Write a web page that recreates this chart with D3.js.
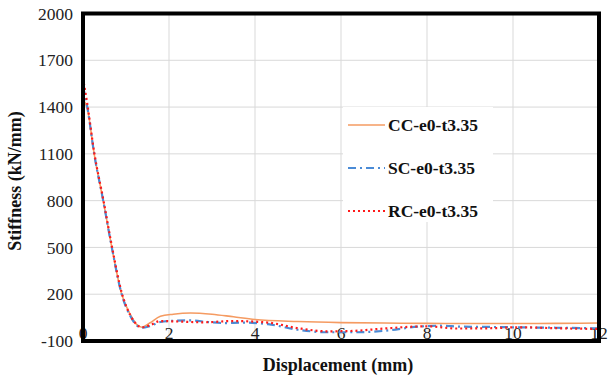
<!DOCTYPE html>
<html>
<head>
<meta charset="utf-8">
<script src="https://cdn.jsdelivr.net/npm/d3@7"></script>
<style>
  body { margin: 0; background: #fff; }
  svg { display: block; }
</style>
</head>
<body>
<div id="chart"></div>
<script>
// displacement (mm) sample points, one array per series
const ccX = [0, 0.1, 0.26, 0.47, 0.67, 0.9, 1.1, 1.25, 1.37, 1.55, 1.8, 2.1, 2.5, 3.0, 3.5, 4.0, 5.0, 6.0, 7, 8, 9, 10, 11, 12];
const ccY = [1450, 1390, 1100, 800, 500, 200, 70, 5, -12, 15, 58, 72, 80, 72, 55, 38, 25, 18, 15, 13, 12, 12, 13, 15];

const scX = [0, 0.1, 0.26, 0.47, 0.67, 0.9, 1.1, 1.25, 1.37, 1.55, 1.8, 2.1, 2.5, 2.9, 3.3, 3.7, 4.3, 5.0, 5.7, 6.3, 7.0, 7.8, 8.3, 8.8, 9.5, 10, 11, 12];
const scY = [1530, 1400, 1100, 800, 500, 200, 60, 0, -15, -5, 22, 30, 32, 22, 15, 18, 8, -28, -44, -44, -35, -8, -2, -8, -10, -12, -15, -19];

const rcX = [0, 0.1, 0.26, 0.47, 0.67, 0.9, 1.1, 1.25, 1.37, 1.55, 1.8, 2.2, 2.8, 3.5, 4.3, 5.0, 5.7, 6.3, 7.0, 8.0, 8.7, 9.5, 10.1, 11, 12];
const rcY = [1585, 1420, 1110, 810, 510, 210, 65, 5, -12, 0, 28, 25, 20, 28, 18, -18, -38, -35, -20, -6, -20, -18, -12, -18, -23];

const seriesNames = ['CC-e0-t3.35', 'SC-e0-t3.35', 'RC-e0-t3.35'];
const xTicks = [0, 2, 4, 6, 8, 10, 12];
const yTicks = [-100, 200, 500, 800, 1100, 1400, 1700, 2000];

const width = 609;
const height = 379;
const margin = { top: 13.5, right: 10, bottom: 38, left: 83 };
const plotW = width - margin.left - margin.right;
const plotH = height - margin.top - margin.bottom;

const svg = d3.select('#chart')
  .append('svg')
  .attr('width', width)
  .attr('height', height);

const x = d3.scaleLinear().domain([0, 12]).range([0, plotW]);
const y = d3.scaleLinear().domain([-100, 2000]).range([plotH, 0]);

const g = svg.append('g')
  .attr('transform', `translate(${margin.left},${margin.top})`);

// grid
g.append('g')
  .selectAll('line')
  .data(yTicks)
  .enter().append('line')
  .attr('x1', 0).attr('x2', plotW)
  .attr('y1', d => y(d)).attr('y2', d => y(d))
  .attr('stroke', '#d9d9d9').attr('stroke-width', 1);

g.append('g')
  .selectAll('line')
  .data(xTicks.slice(1))
  .enter().append('line')
  .attr('y1', 0).attr('y2', plotH)
  .attr('x1', d => x(d)).attr('x2', d => x(d))
  .attr('stroke', '#d9d9d9').attr('stroke-width', 1);

// y tick labels
g.append('g')
  .selectAll('text')
  .data(yTicks)
  .enter().append('text')
  .attr('x', -10)
  .attr('y', d => y(d))
  .attr('dy', '0.35em')
  .attr('text-anchor', 'end')
  .style('font-family', '"Liberation Serif", "Times New Roman", serif')
  .style('font-size', '17.5px')
  .style('fill', '#222')
  .text(d => d);

// x tick labels sit just under the zero line
g.append('g')
  .selectAll('text')
  .data(xTicks)
  .enter().append('text')
  .attr('x', d => x(d))
  .attr('y', y(0) + 13.5)
  .attr('text-anchor', 'middle')
  .style('font-family', '"Liberation Serif", "Times New Roman", serif')
  .style('font-size', '17.5px')
  .style('fill', '#222')
  .text(d => d);

// series
const line = d3.line()
  .x(d => x(d[0]))
  .y(d => y(d[1]))
  .curve(d3.curveMonotoneX);

const series = [
  { pts: d3.zip(ccX, ccY), color: '#f59b62', dash: null, w: 1.6 },
  { pts: d3.zip(scX, scY), color: '#4a8bd6', dash: '8,4,2,4', w: 2.2 },
  { pts: d3.zip(rcX, rcY), color: '#ff1a1a', dash: '2,3', w: 2.2 }
];

series.forEach(s => {
  g.append('path')
    .datum(s.pts)
    .attr('d', line)
    .attr('fill', 'none')
    .attr('stroke', s.color)
    .attr('stroke-width', s.w)
    .attr('stroke-dasharray', s.dash);
});

// legend
const legend = svg.append('g');
legend.append('rect')
  .attr('x', 343).attr('y', 107)
  .attr('width', 150).attr('height', 115)
  .attr('fill', '#fff');

seriesNames.forEach((name, i) => {
  const ly = 125 + i * 43;
  legend.append('line')
    .attr('x1', 348).attr('x2', 385)
    .attr('y1', ly).attr('y2', ly)
    .attr('stroke', series[i].color)
    .attr('stroke-width', series[i].w)
    .attr('stroke-dasharray', series[i].dash);
  legend.append('text')
    .attr('x', 388)
    .attr('y', ly)
    .attr('dy', '0.35em')
    .style('font-family', '"Liberation Serif", "Times New Roman", serif')
    .style('font-size', '17.5px')
    .style('font-weight', 'bold')
    .style('fill', '#111')
    .text(name);
});

// frame drawn over the labels
g.append('rect')
  .attr('x', 0).attr('y', 0)
  .attr('width', plotW).attr('height', plotH)
  .attr('fill', 'none')
  .attr('stroke', '#000')
  .attr('stroke-width', 4);

// axis titles
svg.append('text')
  .attr('x', margin.left + plotW / 2 - 3)
  .attr('y', 371)
  .attr('text-anchor', 'middle')
  .style('font-family', '"Liberation Serif", "Times New Roman", serif')
  .style('font-size', '18px')
  .style('font-weight', 'bold')
  .style('fill', '#111')
  .text('Displacement (mm)');

svg.append('text')
  .attr('transform', 'rotate(-90)')
  .attr('x', -181)
  .attr('y', 21)
  .attr('text-anchor', 'middle')
  .style('font-family', '"Liberation Serif", "Times New Roman", serif')
  .style('font-size', '18px')
  .style('font-weight', 'bold')
  .style('fill', '#111')
  .text('Stiffness (kN/mm)');
</script>
</body>
</html>
